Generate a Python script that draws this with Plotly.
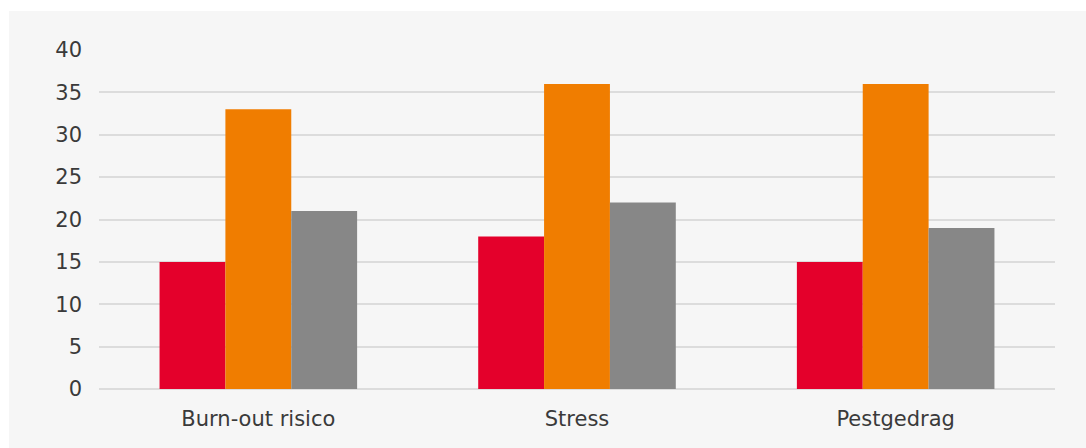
import plotly.graph_objects as go

categories = ["Burn-out risico", "Stress", "Pestgedrag"]
series_a = [15, 18, 15]
series_b = [33, 36, 36]
series_c = [21, 22, 19]
y_ticks = [0, 5, 10, 15, 20, 25, 30, 35, 40]

colors = ["#e4002b", "#f07d00", "#878787"]

fig = go.Figure()
for vals, col in zip([series_a, series_b, series_c], colors):
    fig.add_trace(go.Bar(x=categories, y=vals, marker=dict(color=col, line=dict(width=0)),
                         showlegend=False, hoverinfo="y"))

L, R, T, B = 99, 31, 50, 59
W, H = 1086, 448
pw, ph = W - L - R, H - T - B

fig.update_layout(
    width=W, height=H,
    margin=dict(l=L, r=R, t=T, b=B),
    paper_bgcolor="white",
    plot_bgcolor="rgba(0,0,0,0)",
    barmode="group", bargap=0.38, bargroupgap=0,
    font=dict(family="DejaVu Sans, sans-serif", size=21, color="#3a3a3a"),
    shapes=[dict(type="rect", xref="paper", yref="paper", layer="below",
                 x0=(9 - L) / pw, x1=(W - L) / pw,
                 y0=-(B) / ph - 0.01, y1=(H - B - 11) / ph,
                 fillcolor="#f6f6f6", line=dict(width=0))],
    xaxis=dict(showgrid=False, showline=False, ticks="", ticklabelstandoff=15,
               tickfont=dict(size=21, color="#3a3a3a")),
    yaxis=dict(range=[0, 40], tickvals=y_ticks, showgrid=True, gridcolor="#dcdcdc",
               gridwidth=2, zeroline=True, zerolinecolor="#dcdcdc", zerolinewidth=2,
               showline=False, ticks="", ticklabelstandoff=16,
               tickfont=dict(size=21, color="#3a3a3a")),
)

fig.write_html("out.html")
